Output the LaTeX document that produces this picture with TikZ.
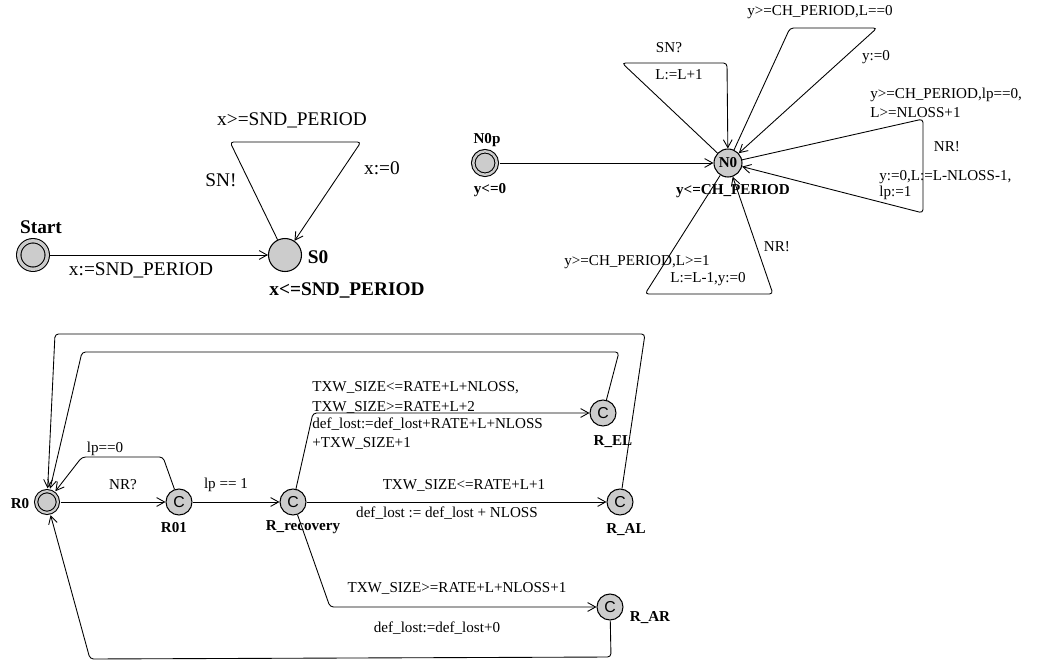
\documentclass[tikz,border=0pt]{standalone}
\usepackage{fontspec}
\setmainfont{Liberation Serif}
\newfontfamily\csans{Liberation Sans}
\usetikzlibrary{arrows.meta}

\tikzset{
  loc/.style={circle, draw, fill=black!20, line width=0.6pt, inner sep=0pt},
  initloc/.style={loc, double=black!20, double distance=#1, outer sep=1.6pt},
  comm/.style={loc, minimum size=0.52cm, font=\csans\fontsize{9}{9}\selectfont},
  edge/.style={-{Straight Barb[length=4.5pt,width=5pt]}, line width=0.5pt, rounded corners=2pt},
  smalllab/.style={font=\fontsize{8.6}{10}\selectfont, inner sep=0pt},
  smallname/.style={font=\fontsize{8.6}{10}\selectfont\bfseries, inner sep=0pt},
  biglab/.style={font=\fontsize{11}{13}\selectfont, inner sep=0pt},
  bigname/.style={font=\fontsize{11}{13}\selectfont\bfseries, inner sep=0pt},
}

\begin{document}
\begin{tikzpicture}[x=0.02cm, y=-0.02cm]
\useasboundingbox (0,0) rectangle (1039,660);

% sender
\node[initloc=1.9pt, minimum size=0.57cm] (Start) at (33,255) {};
\node[loc, minimum size=0.66cm] (S0) at (285,255) {};
\node[bigname] (nStart) at (41,227) {Start};
\node[bigname] (nS0) at (318,257) {S0};
\node[bigname] (invS0) at (347,290) {x<=SND\_PERIOD};

\draw[edge] (Start) -- (S0);
\draw[edge] (S0) -- (230,142) -- (361,142) -- (S0); % self loop
\node[biglab] (a1) at (141,270) {x:=SND\_PERIOD};
\node[biglab] (a2) at (292,120) {x>=SND\_PERIOD};
\node[biglab] (a3) at (221,180) {SN!};
\node[biglab] (a4) at (382,168) {x:=0};

% channel
\node[initloc=1.4pt, minimum size=0.47cm] (N0p) at (485,163) {};
\node[loc, minimum size=0.56cm, font=\fontsize{8.6}{10}\selectfont\bfseries] (N0) at (728,163) {N0};
\node[smallname] (nN0p) at (487,140) {N0p};
\node[smallname] (invN0p) at (490,190) {y<=0};
\node[smallname] (invN0) at (733,191) {y<=CH\_PERIOD};

\draw[edge] (N0p) -- (N0);
\draw[edge] (N0) -- (622,63) -- (727,63) -- (N0);   % SN?
\draw[edge] (N0) -- (790,28) -- (877,28) -- (N0);   % L==0
\draw[edge] (N0) -- (923,119) -- (923,213) -- (N0); % NR! right
\draw[edge] (N0) -- (645,294) -- (773,294) -- (N0); % NR! below
\node[smalllab] (b1) at (669,48) {SN?};
\node[smalllab] (b2) at (679,75) {L:=L+1};
\node[smalllab] (b3) at (820,12) {y>=CH\_PERIOD,L==0};
\node[smalllab] (b4) at (876,57) {y:=0};
\node[smalllab, anchor=west] (b5) at (870,95) {y>=CH\_PERIOD,lp==0,};
\node[smalllab, anchor=west] (b6) at (870,113) {L>=NLOSS+1};
\node[smalllab] (b7) at (947,147) {NR!};
\node[smalllab, anchor=west] (b8) at (879,177) {y:=0,L:=L-NLOSS-1,};
\node[smalllab, anchor=west] (b9) at (879,193) {lp:=1};
\node[smalllab, anchor=east] (b10) at (710,262) {y>=CH\_PERIOD,L>=1};
\node[smalllab] (b11) at (708,279) {L:=L-1,y:=0};
\node[smalllab] (b12) at (777,247) {NR!};

% receiver
\node[initloc=1.25pt, minimum size=0.434cm] (R0) at (47,502) {};
\foreach \n/\x/\y in {R01/179/502, Rrec/293/502, REL/603/413, RAL/620/502, RAR/610/607}
  \node[comm] (\n) at (\x,\y) {C};
\node[smallname] (nR0) at (20,504) {R0};
\node[smallname] (nR01) at (174,528) {R01};
\node[smallname] (nRrec) at (303,527) {R\_recovery};
\node[smallname] (nREL) at (613,442) {R\_EL};
\node[smallname] (nRAL) at (626,530) {R\_AL};
\node[smallname] (nRAR) at (650,618) {R\_AR};

\draw[edge] (R0) -- (R01);
\draw[edge] (R01) -- (163,457) -- (82,457) -- (R0);
\draw[edge] (R01) -- (Rrec);
\draw[edge] (Rrec) -- (313,413) -- (REL);
\draw[edge] (Rrec) -- (RAL);
\draw[edge] (Rrec) -- (330,607) -- (RAR);
\draw[edge] (REL) -- (619,352) -- (82,352) -- (R0);
\draw[edge] (RAL) -- (645,334) -- (55,334) -- (R0);
\draw[edge] (RAR) -- (611,657) -- (90,659) -- (R0);
\node[smalllab] (c1) at (123,485) {NR?};
\node[smalllab] (c2) at (105,449) {lp==0};
\node[smalllab] (c3) at (226,485) {lp == 1};
\node[smalllab, anchor=west] (c4) at (312,388) {TXW\_SIZE<=RATE+L+NLOSS,};
\node[smalllab, anchor=west] (c5) at (312,407) {TXW\_SIZE>=RATE+L+2};
\node[smalllab, anchor=west] (c6) at (312,424) {def\_lost:=def\_lost+RATE+L+NLOSS};
\node[smalllab, anchor=west] (c7) at (312,443) {+TXW\_SIZE+1};
\node[smalllab] (c8) at (464,485) {TXW\_SIZE<=RATE+L+1};
\node[smalllab] (c9) at (447,513) {def\_lost := def\_lost + NLOSS};
\node[smalllab] (c10) at (457,588) {TXW\_SIZE>=RATE+L+NLOSS+1};
\node[smalllab] (c11) at (437,628) {def\_lost:=def\_lost+0};

\end{tikzpicture}
\end{document}
